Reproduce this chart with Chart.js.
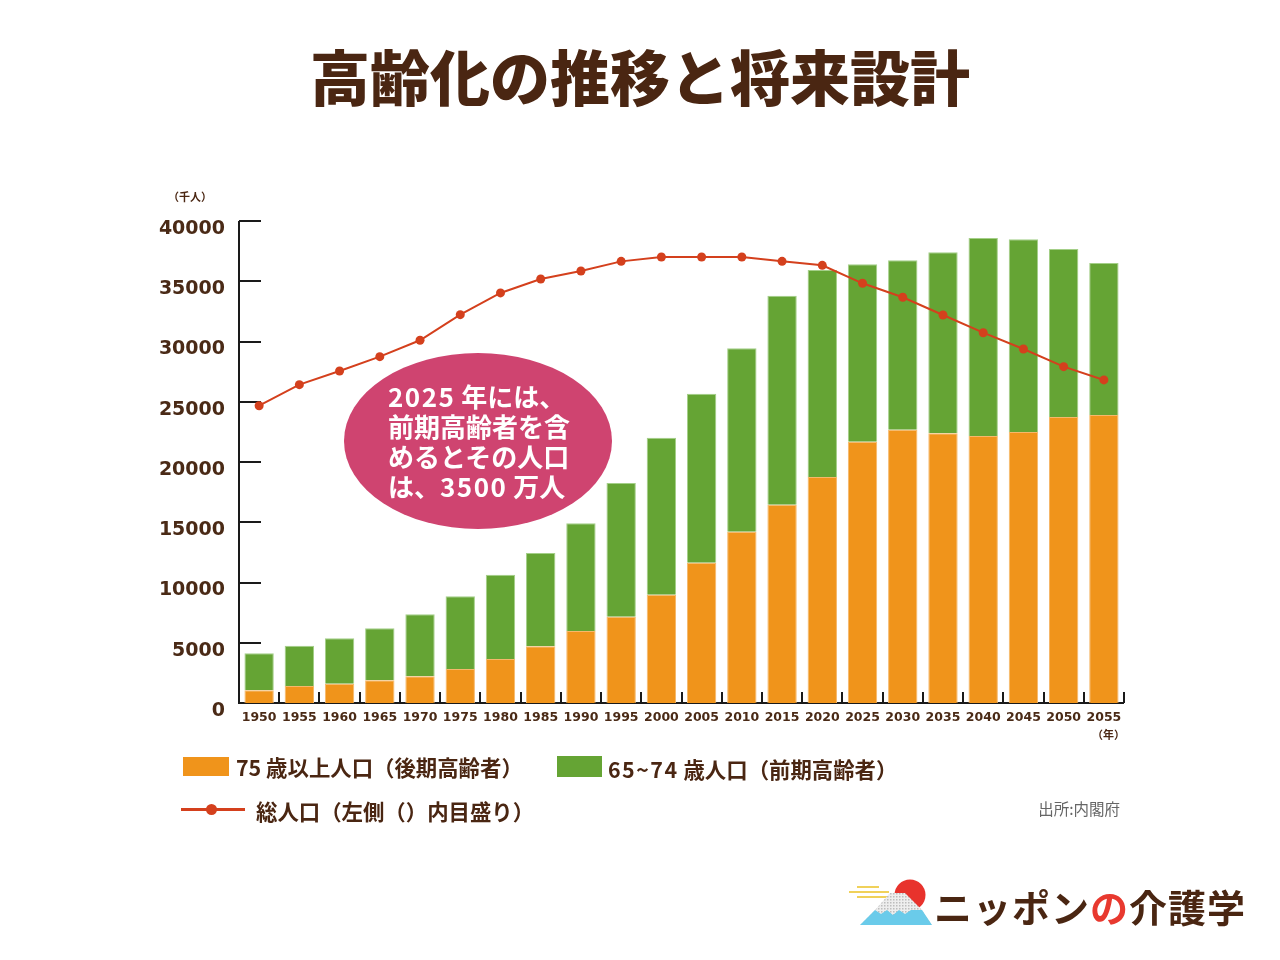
<!DOCTYPE html>
<html lang="ja">
<head>
<meta charset="utf-8">
<script src="https://cdn.jsdelivr.net/npm/chart.js@4.4.1/dist/chart.umd.min.js"></script>
<style>
  html, body { margin: 0; padding: 0; background: #fff; }
  #page { position: relative; width: 1280px; height: 960px; overflow: hidden; font-family: "Noto Sans CJK JP", "Noto Sans", sans-serif; color: #4a2612; }
  #chart { position: absolute; left: 0; top: 0; }
  .abs { position: absolute; white-space: nowrap; }
  .title { left: 0; width: 1280px; text-align: center; top: 45px; font-size: 60px; line-height: 60px; font-weight: 900; letter-spacing: 0px; }
  .unit { font-size: 11px; line-height: 11px; font-weight: 700; }
  .bubble { left: 344px; top: 353px; width: 268px; height: 176px; border-radius: 50%; background: #cf4470; }
  .bubble-text { left: 388px; top: 381px; color: #fff; font-size: 26px; line-height: 30px; font-weight: 700; }
  .bubble-text .num { letter-spacing: 1.5px; }
  .swatch { position: absolute; }
  .legend-text { font-size: 21.4px; line-height: 21.4px; font-weight: 700; }
  .legend-text .num { letter-spacing: 1.5px; }
  .source { font-size: 15.5px; line-height: 15.5px; color: #666; right: 160px; top: 801px; }
  .logo-text { left: 934px; top: 887px; font-size: 38px; line-height: 38px; font-weight: 700; letter-spacing: 1px; }
</style>
</head>
<body>
<div id="page">
  <canvas id="chart" width="1280" height="960"></canvas>

  <div class="abs title">高齢化の推移と将来設計</div>
  <div class="abs unit" style="left:168px; top:191px;">（千人）</div>
  <div class="abs unit" style="left:1092px; top:729px;">（年）</div>

  <div class="abs bubble"></div>
  <div class="abs bubble-text"><span class="num">2025</span> 年には、<br>前期高齢者を含<br>めるとその人口<br>は、<span class="num">3500</span> 万人</div>

  <div class="swatch" style="left:183px; top:757px; width:46px; height:19px; background:#f0941b;"></div>
  <div class="abs legend-text" style="left:236px; top:756px;">75 歳以上人口（後期高齢者）</div>
  <div class="swatch" style="left:557px; top:756px; width:45px; height:21px; background:#65a434;"></div>
  <div class="abs legend-text" style="left:608px; top:758px;"><span class="num">65~74</span> 歳人口（前期高齢者）</div>
  <div class="swatch" style="left:181px; top:808px; width:64px; height:3px; background:#d4401d;"></div>
  <div class="swatch" style="left:206px; top:804px; width:11px; height:11px; border-radius:50%; background:#d4401d;"></div>
  <div class="abs legend-text" style="left:256px; top:800px;">総人口（左側（）内目盛り）</div>
  <div class="abs source">出所:内閣府</div>

  <svg class="abs" style="left:845px; top:872px;" width="92" height="58" viewBox="0 0 92 58">
    <defs>
      <pattern id="dots" width="3" height="3" patternUnits="userSpaceOnUse">
        <rect width="3" height="3" fill="#eeeeee"/>
        <rect width="1.5" height="1.5" fill="#bdbdbd"/>
      </pattern>
    </defs>
    <line x1="12" y1="15" x2="34" y2="15" stroke="#f0d15a" stroke-width="2"/>
    <line x1="4" y1="20" x2="44" y2="20" stroke="#f0d15a" stroke-width="2"/>
    <line x1="12" y1="25" x2="44" y2="25" stroke="#f0d15a" stroke-width="2"/>
    <circle cx="65" cy="23" r="15.5" fill="#e8322c"/>
    <polygon points="45,21 60,21 77,38 87,53 15,53 30,38" fill="url(#dots)"/>
    <polygon points="30,38 36,42 42,38 48,43 54,38 60,42 66,38 77,38 87,53 15,53" fill="#6acbea"/>
  </svg>
  <div class="abs logo-text">ニッポン<span style="color:#e8392f;">の</span>介護学</div>
</div>

<script>
// 年次
const years = ['1950', '1955', '1960', '1965', '1970', '1975', '1980', '1985', '1990', '1995', '2000',
               '2005', '2010', '2015', '2020', '2025', '2030', '2035', '2040', '2045', '2050', '2055'];

// 75歳以上人口（後期高齢者）千人
const age75plus = [1050, 1410, 1600, 1880, 2210, 2820, 3650, 4700, 5980, 7160, 8990,
                   11640, 14220, 16460, 18760, 21690, 22680, 22380, 22160, 22490, 23730, 23900];

// 65~74歳人口（前期高齢者）千人
const age65to74 = [3070, 3350, 3770, 4320, 5150, 6030, 7000, 7750, 8930, 11100, 13030,
                   14030, 15210, 17340, 17170, 14720, 14060, 15020, 16430, 15990, 13950, 12610];

// 総人口（左側の目盛り上の位置）
const totalPop = [24670, 26420, 27550, 28740, 30100, 32230, 34030, 35190, 35850, 36650, 37010,
                  37010, 37010, 36650, 36320, 34830, 33670, 32200, 30730, 29380, 27910, 26810];

const yMin = 0;
const yMax = 40000;
const yStep = 5000;

// Axis lines and inside ticks, drawn from the chart's own scales
const axisLinesPlugin = {
    id: 'axisLines',
    beforeDatasetsDraw(chart) {
        const { ctx, chartArea } = chart;
        const x = chart.scales.x;
        const y = chart.scales.y;
        const bottom = Math.round(chartArea.bottom);
        const left = Math.round(chartArea.left);

        ctx.save();
        ctx.strokeStyle = '#1a1a1a';
        ctx.lineWidth = 2;
        ctx.beginPath();
        ctx.moveTo(left, Math.round(y.getPixelForValue(yMax)));
        ctx.lineTo(left, bottom);
        ctx.lineTo(Math.round(chartArea.right), bottom);

        // y ticks point inwards
        y.ticks.forEach(t => {
            const py = Math.round(y.getPixelForValue(t.value));
            ctx.moveTo(left, py);
            ctx.lineTo(left + 22, py);
        });

        // small x ticks between the bars
        const half = (x.getPixelForValue(1) - x.getPixelForValue(0)) / 2;
        for (let i = 1; i <= years.length; i++) {
            const px = i === years.length ? chartArea.right : x.getPixelForValue(i) - half;
            ctx.moveTo(Math.round(px), bottom);
            ctx.lineTo(Math.round(px), bottom - 11);
        }
        ctx.stroke();
        ctx.restore();
    }
};

const brown = '#4a2a16';

new Chart(document.getElementById('chart'), {
    type: 'bar',
    data: {
        labels: years,
        datasets: [
            {
                type: 'line',
                data: totalPop,
                stack: 'total',
                order: 0,
                borderColor: '#d4401d',
                backgroundColor: '#d4401d',
                borderWidth: 2,
                pointRadius: 4.5,
                pointBackgroundColor: '#d4401d',
                pointBorderWidth: 0,
                tension: 0
            },
            {
                data: age75plus,
                stack: 'elderly',
                order: 1,
                backgroundColor: '#f0941b',
                borderColor: '#f6b86a',
                borderWidth: 1,
                barPercentage: 0.73,
                categoryPercentage: 1
            },
            {
                data: age65to74,
                stack: 'elderly',
                order: 1,
                backgroundColor: '#65a434',
                borderColor: '#a4cf88',
                borderWidth: 1,
                barPercentage: 0.73,
                categoryPercentage: 1
            }
        ]
    },
    options: {
        responsive: false,
        animation: false,
        devicePixelRatio: 1,
        layout: {
            padding: { left: 0, right: 156, top: 221, bottom: 227 }
        },
        scales: {
            x: {
                stacked: true,
                grid: { display: false, drawTicks: false },
                border: { display: false },
                ticks: {
                    color: brown,
                    padding: 7,
                    maxRotation: 0,
                    autoSkip: false,
                    font: { family: 'DejaVu Sans', size: 12.5, weight: 'bold' }
                },
                afterFit(scale) { scale.height = 30; }
            },
            y: {
                stacked: true,
                min: yMin,
                max: yMax,
                grid: { display: false, drawTicks: false },
                border: { display: false },
                ticks: {
                    stepSize: yStep,
                    color: brown,
                    padding: 14,
                    labelOffset: 8,
                    font: { family: 'DejaVu Sans', size: 19, weight: 'bold' },
                    callback: value => String(value)
                },
                afterFit(scale) { scale.width = 239; }
            }
        },
        plugins: {
            legend: { display: false },
            tooltip: { enabled: false }
        }
    },
    plugins: [axisLinesPlugin]
});
</script>
</body>
</html>
